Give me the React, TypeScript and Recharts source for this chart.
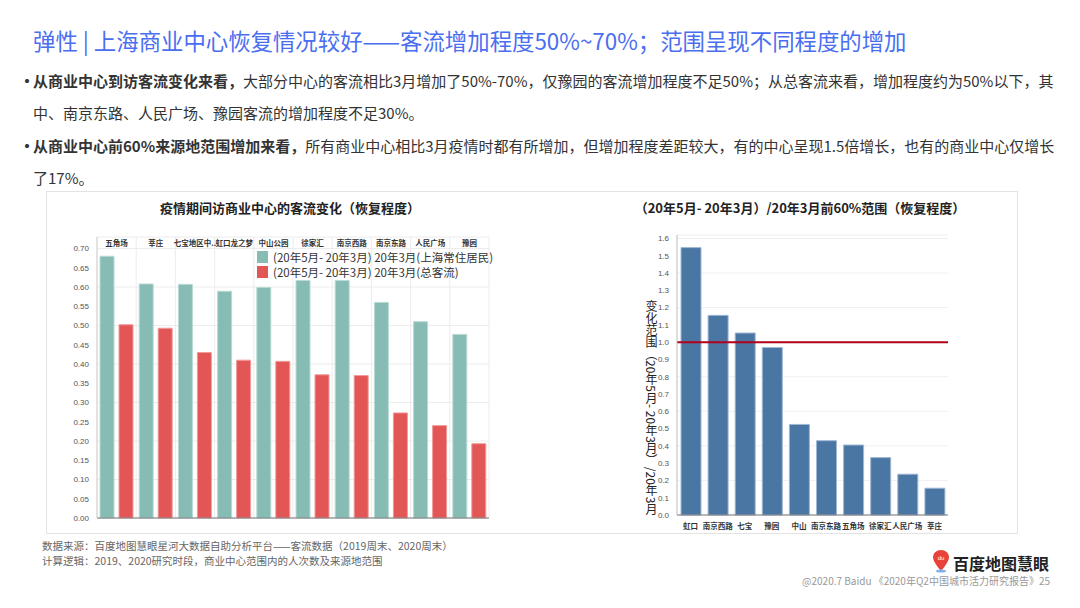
import React from 'react';
import {
  BarChart,
  Bar,
  XAxis,
  YAxis,
  CartesianGrid,
  Legend,
  ReferenceLine,
} from 'recharts';

// 左图：疫情期间访商业中心的客流变化（恢复程度）
const flowCenters = ['五角场', '莘庄', '七宝地区中..', '虹口龙之梦', '中山公园', '徐家汇', '南京西路', '南京东路', '人民广场', '豫园'];
const residentValues = [0.68, 0.608, 0.607, 0.589, 0.599, 0.617, 0.617, 0.56, 0.51, 0.477];
const totalValues = [0.502, 0.493, 0.43, 0.41, 0.407, 0.372, 0.37, 0.273, 0.24, 0.193];
const flowTicks = [0, 0.05, 0.1, 0.15, 0.2, 0.25, 0.3, 0.35, 0.4, 0.45, 0.5, 0.55, 0.6, 0.65, 0.7];

// 右图：前60%范围变化
const rangeCenters = ['虹口', '南京西路', '七宝', '豫园', '中山', '南京东路', '五角场', '徐家汇', '人民广场', '莘庄'];
const rangeValues = [1.547, 1.155, 1.053, 0.969, 0.524, 0.43, 0.405, 0.332, 0.236, 0.155];
const rangeTicks = [0, 0.1, 0.2, 0.3, 0.4, 0.5, 0.6, 0.7, 0.8, 0.9, 1.0, 1.1, 1.2, 1.3, 1.4, 1.5, 1.6];

const residentName = '(20年5月- 20年3月) 20年3月(上海常住居民)';
const totalName = '(20年5月- 20年3月) 20年3月(总客流)';

const flowData = flowCenters.map((name, i) => ({
  name,
  resident: residentValues[i],
  total: totalValues[i],
}));
const rangeData = rangeCenters.map((name, i) => ({ name, value: rangeValues[i] }));

const CJK = '"Noto Sans CJK SC", "Noto Sans", sans-serif';
const TEAL = '#87bcb5';
const RED = '#e35656';
const BLUE = '#4a76a4';

// vertical grid at category boundaries
const boundaryLines = (n: number) => (props: any) => {
  const off = props.offset || {};
  const left = off.left ?? 0;
  const w = off.width ?? 0;
  const out: number[] = [];
  for (let i = 0; i <= n; i++) out.push(left + (i * w) / n);
  return out;
};

const LegendList = (props: any) => {
  const items = props.payload || [];
  return (
    <div style={{ textAlign: 'left' }}>
      {items.map((it: any) => (
        <div key={it.value} style={{ display: 'flex', alignItems: 'center', height: 15 }}>
          <span style={{ width: 11, height: 12, background: it.color, marginRight: 5, flex: 'none' }} />
          <span style={{ color: '#333', fontSize: 11.5, whiteSpace: 'nowrap' }}>{it.value}</span>
        </div>
      ))}
    </div>
  );
};

const bullet = (
  <span style={{ display: 'inline-block', width: 14, fontSize: 16, fontWeight: 700 }}>•</span>
);

const App = () => {
  return (
    <div
      style={{
        position: 'absolute',
        left: 0,
        top: 0,
        width: 1080,
        height: 608,
        background: '#fff',
        fontFamily: CJK,
        overflow: 'hidden',
      }}
    >
      <div style={{ position: 'absolute', left: 33, top: 24, fontSize: 22.4, color: '#4a6ef0', whiteSpace: 'nowrap' }}>
        弹性 | 上海商业中心恢复情况较好——客流增加程度50%~70%；范围呈现不同程度的增加
      </div>

      <div style={{ position: 'absolute', left: 19, top: 64, fontSize: 15, color: '#333', lineHeight: '32px', whiteSpace: 'nowrap' }}>
        <div>
          {bullet}
          <b>从商业中心到访客流变化来看，</b>大部分中心的客流相比3月增加了50%-70%，仅豫园的客流增加程度不足50%；从总客流来看，增加程度约为50%以下，其
        </div>
        <div style={{ paddingLeft: 14 }}>中、南京东路、人民广场、豫园客流的增加程度不足30%。</div>
        <div>
          {bullet}
          <b>从商业中心前60%来源地范围增加来看，</b>所有商业中心相比3月疫情时都有所增加，但增加程度差距较大，有的中心呈现1.5倍增长，也有的商业中心仅增长
        </div>
        <div style={{ paddingLeft: 14 }}>了17%。</div>
      </div>

      {/* panel */}
      <div
        style={{
          position: 'absolute',
          left: 46,
          top: 191,
          width: 970,
          height: 341,
          border: '1px solid #e3e3e3',
        }}
      />

      <div style={{ position: 'absolute', left: 150, top: 198, width: 280, textAlign: 'center', fontSize: 13, fontWeight: 700, color: '#222' }}>
        疫情期间访商业中心的客流变化（恢复程度）
      </div>
      <div style={{ position: 'absolute', left: 620, top: 198, width: 360, textAlign: 'center', fontSize: 13, fontWeight: 700, color: '#222' }}>
        （20年5月- 20年3月）/20年3月前60%范围（恢复程度）
      </div>

      <div style={{ position: 'absolute', left: 50, top: 225 }}>
        <BarChart
          width={455}
          height={305}
          data={flowData}
          margin={{ top: 12, right: 16, bottom: 12, left: 0 }}
          barGap={5}
          barSize={14}
        >
          <CartesianGrid
            stroke="#ececec"
            verticalCoordinatesGenerator={boundaryLines(flowCenters.length)}
          />
          <XAxis
            dataKey="name"
            orientation="top"
            mirror
            axisLine={false}
            tickLine={false}
            interval={0}
            tick={{ fontSize: 7.5, fill: '#333', fontWeight: 700, fontFamily: CJK }}
            tickMargin={-2}
          />
          <YAxis
            width={47}
            domain={[0, 0.73]}
            ticks={flowTicks}
            tickFormatter={(v: number) => v.toFixed(2)}
            axisLine={{ stroke: '#cfcfcf' }}
            tickLine={false}
            tick={{ fontSize: 8, fill: '#555', fontFamily: 'Arial, "Liberation Sans", sans-serif' }}
          />
          <ReferenceLine y={0} stroke="#777" strokeWidth={1} />
          <Legend
            layout="horizontal"
            verticalAlign="middle"
            align="center"
            content={<LegendList />}
            wrapperStyle={{ left: 207, top: 24, width: 250 }}
          />
          <Bar dataKey="resident" name={residentName} fill={TEAL} stroke="#b9dad5" strokeWidth={1} isAnimationActive={false} />
          <Bar dataKey="total" name={totalName} fill={RED} stroke="#f09a9a" strokeWidth={1} isAnimationActive={false} />
        </BarChart>
      </div>

      <div
        style={{
          position: 'absolute',
          left: 643,
          top: 300,
          writingMode: 'vertical-rl',
          fontSize: 12,
          color: '#222',
          whiteSpace: 'nowrap',
        }}
      >
        变化范围（20年5月- 20年3月）/20年3月
      </div>

      <div style={{ position: 'absolute', left: 630, top: 225 }}>
        <BarChart
          width={330}
          height={310}
          data={rangeData}
          margin={{ top: 10, right: 12, bottom: 0, left: 0 }}
          barSize={20}
        >
          <CartesianGrid stroke="#f0f0f0" vertical={false} />
          <XAxis
            dataKey="name"
            height={20}
            interval={0}
            axisLine={{ stroke: '#777' }}
            tickLine={false}
            tick={{ fontSize: 7.5, fill: '#333', fontWeight: 700, fontFamily: CJK }}
            tickMargin={3}
          />
          <YAxis
            width={47}
            domain={[0, 1.62]}
            ticks={rangeTicks}
            tickFormatter={(v: number) => v.toFixed(1)}
            axisLine={{ stroke: '#bbb' }}
            tickLine={false}
            tick={{ fontSize: 8, fill: '#555', fontFamily: 'Arial, "Liberation Sans", sans-serif' }}
          />
          <Bar dataKey="value" fill={BLUE} stroke="#9fb8d3" strokeWidth={1} isAnimationActive={false} />
          <ReferenceLine y={1} stroke="#b3001b" strokeWidth={2} />
        </BarChart>
      </div>

      <div style={{ position: 'absolute', left: 42, top: 538, fontSize: 10.5, color: '#666', lineHeight: '15px', whiteSpace: 'nowrap' }}>
        <div>数据来源：百度地图慧眼星河大数据自助分析平台——客流数据（2019周末、2020周末）</div>
        <div>计算逻辑：2019、2020研究时段，商业中心范围内的人次数及来源地范围</div>
      </div>

      <svg style={{ position: 'absolute', left: 932, top: 549 }} width={18} height={24}>
        <path d="M9 1 C3.5 1 1 5 1 8.5 C1 13 9 22 9 22 C9 22 17 13 17 8.5 C17 5 14.5 1 9 1 Z" fill="#e8423a" />
        <text x={9} y={11} fontSize={6} fill="#fff" textAnchor="middle" fontFamily="Arial">du</text>
        <ellipse cx={9} cy={22} rx={5} ry={1.5} fill="#7fb0ea" />
      </svg>
      <div style={{ position: 'absolute', left: 953, top: 551, fontSize: 16, fontWeight: 700, color: '#222', whiteSpace: 'nowrap' }}>
        百度地图慧眼
      </div>
      <div style={{ position: 'absolute', right: 30, top: 573, fontSize: 10, color: '#999', whiteSpace: 'nowrap' }}>
        @2020.7 Baidu 《2020年Q2中国城市活力研究报告》25
      </div>
    </div>
  );
};

export default App;
